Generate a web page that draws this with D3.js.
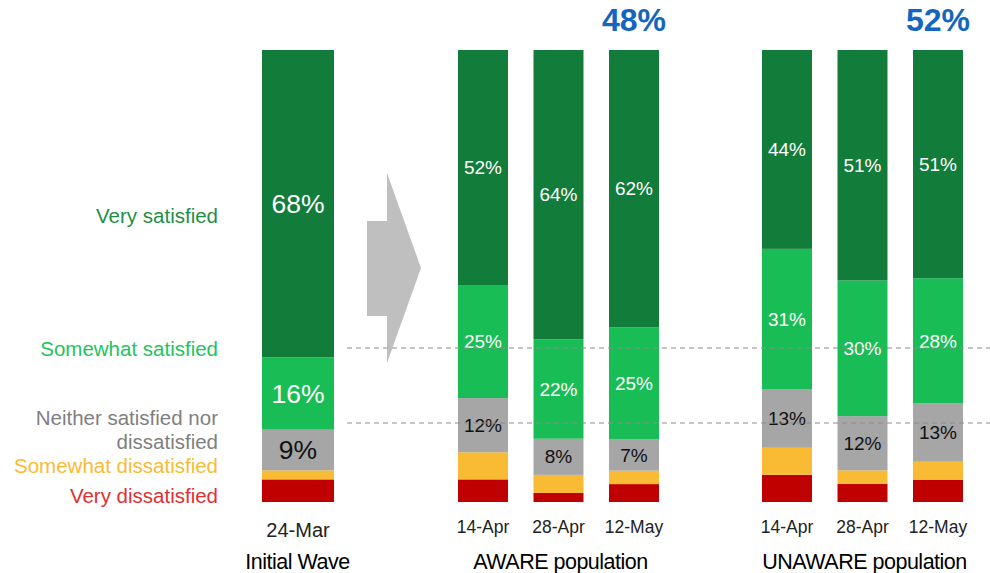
<!DOCTYPE html>
<html>
<head>
<meta charset="utf-8">
<script src="https://cdn.jsdelivr.net/npm/d3@7"></script>
<style>
  body { margin: 0; background: #fff; }
  svg { display: block; font-family: "Liberation Sans", Arial, sans-serif; }
</style>
</head>
<body>
<svg width="990" height="573"></svg>
<script>
// bars, left to right
var groups = ["Initial Wave", "AWARE population", "UNAWARE population"];
var barGroup = ["Initial Wave", "AWARE population", "AWARE population", "AWARE population",
  "UNAWARE population", "UNAWARE population", "UNAWARE population"];
var dates = ["24-Mar", "14-Apr", "28-Apr", "12-May", "14-Apr", "28-Apr", "12-May"];

var categories = ["Very satisfied", "Somewhat satisfied", "Neither satisfied nor dissatisfied",
  "Somewhat dissatisfied", "Very dissatisfied"];

var verySatisfied        = [68, 52, 64, 62, 44, 51, 51];
var somewhatSatisfied    = [16, 25, 22, 25, 31, 30, 28];
var neither              = [9, 12, 8, 7, 13, 12, 13];
var somewhatDissatisfied = [2, 6, 4, 3, 6, 3, 4];
var veryDissatisfied     = [5, 5, 2, 4, 6, 4, 5];

var headerPct = { "AWARE population": "48%", "UNAWARE population": "52%" };

var colors = ["#127c3a", "#19bd55", "#a6a6a6", "#f9bb34", "#c00000"];
var textColors = ["#1f8f45", "#22c45c", "#7f7f7f", "#f9bb34", "#e03030"];

var series = [verySatisfied, somewhatSatisfied, neither, somewhatDissatisfied, veryDissatisfied];
var data = dates.map(function(d, i) {
  var row = { id: i, date: d, group: barGroup[i] };
  categories.forEach(function(c, j) { row[c] = series[j][i]; });
  return row;
});

var svg = d3.select("svg");

// each group gets its own band scale
var groupRange = {
  "Initial Wave": [262, 334],
  "AWARE population": [458, 659],
  "UNAWARE population": [762, 963]
};
var xScales = {};
groups.forEach(function(g) {
  var ids = data.filter(function(d) { return d.group == g; }).map(function(d) { return d.id; });
  xScales[g] = d3.scaleBand().domain(ids).range(groupRange[g])
    .paddingInner(g == "Initial Wave" ? 0 : 0.338).paddingOuter(0);
});
function bx(d) { return xScales[d.group](d.id); }
function bw(d) { return xScales[d.group].bandwidth(); }
function cx(d) { return bx(d) + bw(d) / 2; }

var y = d3.scaleLinear().domain([0, 1]).range([502, 50]);

var stack = d3.stack()
  .keys(categories.slice().reverse())
  .offset(d3.stackOffsetExpand);
var stacked = stack(data);

var layers = svg.selectAll(".layer")
  .data(stacked)
  .enter().append("g")
  .attr("class", "layer")
  .attr("fill", function(s) { return colors[categories.indexOf(s.key)]; });

layers.selectAll("rect")
  .data(function(s) { return s; })
  .enter().append("rect")
  .attr("x", function(d) { return bx(d.data); })
  .attr("width", function(d) { return bw(d.data); })
  .attr("y", function(d) { return y(d[1]); })
  .attr("height", function(d) { return y(d[0]) - y(d[1]); });

// arrow between initial wave and aware
svg.append("path")
  .attr("d", "M367,221 L387,221 L387,173 L421,268 L387,363 L387,316 L367,316 Z")
  .attr("fill", "#bfbfbf");

// value labels for the top three categories
stacked.forEach(function(s) {
  var ci = categories.indexOf(s.key);
  if (ci > 2) return;
  svg.append("g").selectAll("text")
    .data(s)
    .enter().append("text")
    .attr("x", function(d) { return cx(d.data); })
    .attr("y", function(d) { return (y(d[0]) + y(d[1])) / 2; })
    .attr("dy", "0.35em")
    .attr("text-anchor", "middle")
    .attr("font-size", function(d) { return d.data.group == "Initial Wave" ? 26.5 : 19; })
    .attr("fill", ci == 2 ? "#111" : "#fff")
    .text(function(d) { return d.data[s.key] + "%"; });
});

// dashed guide lines
[348, 423].forEach(function(ly) {
  svg.append("line")
    .attr("x1", 347).attr("x2", 990)
    .attr("y1", ly).attr("y2", ly)
    .attr("stroke", "#8c8c8c")
    .attr("stroke-width", 1)
    .attr("stroke-dasharray", "5,4");
});

// left legend labels
var legendLines = [["Very satisfied"], ["Somewhat satisfied"], ["Neither satisfied nor", "dissatisfied"],
  ["Somewhat dissatisfied"], ["Very dissatisfied"]];
var legendY = [216, 349, 418, 466, 496];
legendLines.forEach(function(lines, i) {
  var t = svg.append("text")
    .attr("x", 218)
    .attr("y", legendY[i])
    .attr("text-anchor", "end")
    .attr("font-size", 20.5)
    .attr("fill", textColors[i]);
  lines.forEach(function(l, k) {
    t.append("tspan").attr("x", 218).attr("dy", k == 0 ? "0.35em" : "1.17em").text(l);
  });
});

// date labels
svg.append("g").selectAll("text")
  .data(data)
  .enter().append("text")
  .attr("x", function(d) { return cx(d); })
  .attr("y", function(d) { return d.group == "Initial Wave" ? 537 : 533; })
  .attr("text-anchor", "middle")
  .attr("font-size", function(d) { return d.group == "Initial Wave" ? 20 : 17.5; })
  .attr("fill", "#222")
  .text(function(d) { return d.date; });

// group names and headers
groups.forEach(function(g) {
  var r = groupRange[g];
  svg.append("text")
    .attr("x", (r[0] + r[1]) / 2 + (g == "Initial Wave" ? -0.5 : 2))
    .attr("y", 569)
    .attr("text-anchor", "middle")
    .attr("font-size", 21.5)
    .attr("letter-spacing", "-0.5")
    .attr("fill", "#000")
    .text(g);
  if (headerPct[g]) {
    var last = data.filter(function(d) { return d.group == g; }).pop();
    svg.append("text")
      .attr("x", cx(last))
      .attr("y", 31)
      .attr("text-anchor", "middle")
      .attr("font-size", 32)
      .attr("font-weight", "bold")
      .attr("fill", "#1565c0")
      .text(headerPct[g]);
  }
});
</script>
</body>
</html>
